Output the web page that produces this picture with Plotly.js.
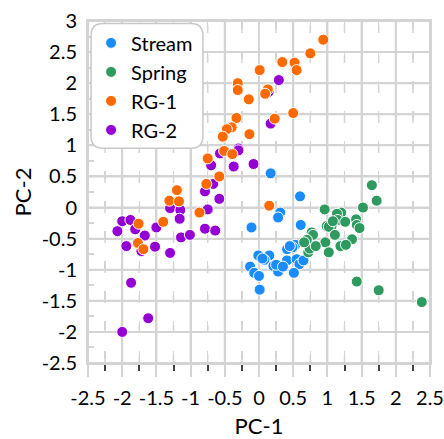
<!DOCTYPE html>
<html>
<head>
<meta charset="utf-8">
<script src="https://cdn.plot.ly/plotly-3.0.1.min.js"></script>
<style>html,body{margin:0;padding:0;background:#fff;}.c{width:444px;height:439px;}</style>
</head>
<body>
<div id="plotdiv" class="c"></div>
<script>
// ---- data ----
const streamX = [0.17, 0.60, 0.31, 0.28, -0.11, 0.61, 0.74, 0.53, 0.49, 0.41, -0.01, 0.15, 0.08, 0.41, 0.55, 0.59, -0.13, 0.21, 0.28, -0.07, 0.00, 0.51, 0.01, 0.05, 0.25, 0.35, 0.45, 0.65];
const streamY = [0.55, 0.18, -0.08, -0.16, -0.32, -0.28, -0.51, -0.60, -0.64, -0.67, -0.77, -0.77, -0.84, -0.85, -0.83, -0.91, -0.95, -0.94, -1.03, -1.05, -1.10, -1.05, -1.32, -0.82, -0.92, -0.95, -0.62, -0.85];

const springX = [1.65, 1.72, 1.52, 0.96, 1.20, 1.14, 1.42, 1.15, 1.26, 1.43, 1.47, 0.99, 1.06, 1.02, 1.11, 1.36, 0.97, 1.19, 1.27, 1.02, 0.72, 0.74, 0.77, 0.79, 0.70, 0.66, 1.43, 1.75, 2.38, 1.08, 0.83];
const springY = [0.36, 0.11, 0.00, -0.03, -0.08, -0.10, -0.19, -0.20, -0.23, -0.28, -0.33, -0.30, -0.30, -0.31, -0.44, -0.51, -0.56, -0.62, -0.60, -0.72, -0.72, -0.66, -0.40, -0.44, -0.52, -0.56, -1.19, -1.33, -1.52, -0.22, -0.62];

const rg1X = [0.94, 0.75, 0.34, 0.52, 0.55, 0.01, -0.31, -0.31, 0.13, 0.09, -0.15, 0.50, 0.23, -0.33, -0.40, -0.47, -0.14, -0.53, -0.51, -0.39, -0.75, -0.58, -0.77, -0.87, -1.20, -1.31, -1.17, -1.40, -1.76, -1.77, -1.69, 0.15];
const rg1Y = [2.70, 2.48, 2.34, 2.33, 2.21, 2.21, 2.00, 1.89, 1.90, 1.83, 1.74, 1.52, 1.43, 1.44, 1.29, 1.26, 1.18, 1.14, 0.91, 0.86, 0.79, 0.50, 0.38, -0.08, 0.28, 0.11, 0.10, -0.23, -0.26, -0.57, -0.67, 0.03];

const rg2X = [0.29, 0.17, 0.14, -0.30, -0.57, -0.30, -0.70, -0.37, -0.08, -0.67, -0.79, -0.58, -0.75, -0.79, -0.64, -1.30, -1.15, -1.16, -2.00, -1.88, -2.07, -1.81, -1.67, -1.50, -1.94, -1.52, -1.30, -1.14, -1.01, -1.72, -1.87, -1.62, -2.00];
const rg2Y = [2.05, 1.35, 1.86, 0.95, 0.87, 0.92, 0.68, 0.66, 0.70, 0.38, 0.26, 0.14, -0.03, -0.34, -0.37, -0.01, -0.04, -0.18, -0.22, -0.20, -0.38, -0.35, -0.45, -0.32, -0.62, -0.63, -0.73, -0.48, -0.44, -0.70, -1.21, -1.78, -2.00];

const seriesNames = ["Stream", "Spring", "RG-1", "RG-2"];
const seriesColors = ["#1a8cff", "#2e9a5f", "#ff6a00", "#9400d3"];

const xTickVals = [-2.5, -2, -1.5, -1, -0.5, 0, 0.5, 1, 1.5, 2, 2.5];
const yTickVals = [-2.5, -2, -1.5, -1, -0.5, 0, 0.5, 1, 1.5, 2, 2.5, 3];

(function drawChart() {
  const FONT = "Lato, 'Open Sans', sans-serif";
  function mids(v) { const out = []; for (let i = 0; i < v.length - 1; i++) out.push((v[i] + v[i + 1]) / 2); return out; }
  function makeTrace(name, x, y, color, rank) {
    return {
      type: "scatter", mode: "markers", name: name, x: x, y: y, legendrank: rank,
      marker: { color: color, size: 11, line: { color: "#ffffff", width: 1 } },
      hoverinfo: "skip"
    };
  }
  const traces = [
    makeTrace(seriesNames[0], streamX, streamY, seriesColors[0], 1),
    makeTrace(seriesNames[1], springX, springY, seriesColors[1], 2),
    makeTrace(seriesNames[3], rg2X, rg2Y, seriesColors[3], 4),
    makeTrace(seriesNames[2], rg1X, rg1Y, seriesColors[2], 3)
  ];
  const gridColor = "#d4d4d4";
  const bx0 = 0.009, bx1 = 0.336, by0 = 0.628, by1 = 0.993, rx = 0.035, ry = 0.035;
  const boxPath = `M ${bx0 + rx} ${by1} L ${bx1 - rx} ${by1} Q ${bx1} ${by1} ${bx1} ${by1 - ry} L ${bx1} ${by0 + ry} Q ${bx1} ${by0} ${bx1 - rx} ${by0} L ${bx0 + rx} ${by0} Q ${bx0} ${by0} ${bx0} ${by0 + ry} L ${bx0} ${by1 - ry} Q ${bx0} ${by1} ${bx0 + rx} ${by1} Z`;

  // grid drawn as shapes (from the tick arrays) as a fallback under the data
  const gridShapes = [];
  xTickVals.forEach(v => gridShapes.push({ type: "line", xref: "x", yref: "paper", x0: v, x1: v, y0: 0, y1: 1, layer: "below",
    line: { color: gridColor, width: 2 } }));
  mids(xTickVals).forEach(v => gridShapes.push({ type: "line", xref: "x", yref: "paper", x0: v, x1: v, y0: 0, y1: 1, layer: "below",
    line: { color: gridColor, width: 1.5, dash: "8px,22px" } }));
  yTickVals.forEach(v => gridShapes.push({ type: "line", xref: "paper", yref: "y", x0: 0, x1: 1, y0: v, y1: v, layer: "below",
    line: { color: gridColor, width: 2 } }));

  const fig = {
    width: 444, height: 439, margin: { l: 88, r: 14, t: 21, b: 76 },
    paper_bgcolor: "#ffffff", plot_bgcolor: "rgba(0,0,0,0)",
    font: { family: FONT, size: 20, color: "#000" },
    showlegend: true,
    legend: { x: bx0, y: by1, xanchor: "left", yanchor: "top", bgcolor: "rgba(0,0,0,0)", borderwidth: 0,
              font: { family: FONT, size: 20, color: "#000" }, traceorder: "normal" },
    xaxis: { range: [-2.5, 2.5], tickmode: "array", tickvals: xTickVals, ticktext: xTickVals.map(String),
      showgrid: true, gridcolor: gridColor, gridwidth: 2, zeroline: false, showline: true, mirror: true, linecolor: gridColor, linewidth: 2,
      ticks: "outside", ticklen: 12, tickwidth: 2, tickcolor: gridColor, ticklabelstandoff: 4,
      minor: { tickmode: "array", tickvals: mids(xTickVals), ticks: "outside", ticklen: 6, tickwidth: 2, tickcolor: "#404040",
               showgrid: true, gridcolor: gridColor, gridwidth: 1.5, griddash: "8px,22px" },
      title: { text: "PC-1", font: { family: FONT, size: 22, color: "#000" }, standoff: 26 }, fixedrange: true },
    yaxis: { range: [-2.5, 3], tickmode: "array", tickvals: yTickVals, ticktext: yTickVals.map(String),
      showgrid: true, gridcolor: gridColor, gridwidth: 2, zeroline: false, showline: true, mirror: true, linecolor: gridColor, linewidth: 2,
      ticks: "", ticklabelstandoff: 5,
      minor: { tickmode: "array", tickvals: mids(yTickVals), ticks: "inside", ticklen: 6, tickwidth: 2, tickcolor: gridColor, showgrid: false },
      title: { text: "PC-2", font: { family: FONT, size: 22, color: "#000" }, standoff: 4 }, fixedrange: true },
    shapes: gridShapes.concat([{ type: "path", xref: "paper", yref: "paper", layer: "above", path: boxPath,
               fillcolor: "#ffffff", line: { color: "#c8c8c8", width: 1.5 } }])
  };
  Plotly.newPlot("plotdiv", traces, fig, { displayModeBar: false, staticPlot: true });
})();
</script>
</body>
</html>
